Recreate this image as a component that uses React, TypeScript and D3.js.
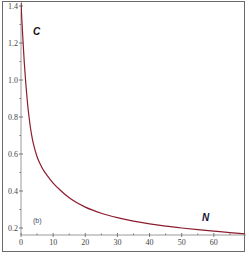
import React from 'react';
import * as d3 from 'd3';

// curve C(N)
const nValues = [0, 0.25, 0.5, 1, 1.5, 2, 2.5, 3, 3.5, 4, 5, 6, 7, 8, 10, 12.5, 15, 20, 25, 30, 35, 40, 45, 50, 55, 60, 65, 70];
const cValues = [1.42, 1.33, 1.25, 1.10, 0.98, 0.88, 0.80, 0.735, 0.685, 0.645, 0.585, 0.545, 0.512, 0.487, 0.443, 0.400, 0.363, 0.313, 0.280, 0.256, 0.237, 0.222, 0.210, 0.200, 0.191, 0.183, 0.175, 0.168];

const xTicks = [0, 10, 20, 30, 40, 50, 60];
const xMinor = [5, 15, 25, 35, 45, 55, 65];
const yTicks = [0.2, 0.4, 0.6, 0.8, 1.0, 1.2, 1.4];
const yMinor = [0.3, 0.5, 0.7, 0.9, 1.1, 1.3];

const W = 249;
const H = 256;

function App() {
    const x = d3.scaleLinear().domain([0, 70]).range([21, 246]);
    const y = d3.scaleLinear().domain([0.2, 1.4]).range([228, 6]);
    const axisY = 235;
    const axisX = 21;

    const points = nValues.map((n, i) => [n, cValues[i]] as [number, number]);
    const line = d3.line<[number, number]>()
        .x(d => x(d[0]))
        .y(d => y(d[1]))
        .curve(d3.curveMonotoneX);

    return (
        <div style={{ position: 'fixed', left: 0, top: 0 }}>
            <svg width={W} height={H} style={{ display: 'block', background: '#fff' }}>
                {/* frame */}
                <rect x={2.5} y={1.5} width={242} height={250} fill="none" stroke="#6a6a6a" strokeWidth={1} />
                <clipPath id="plot">
                    <rect x={axisX} y={2} width={224} height={axisY - 2} />
                </clipPath>

                {/* y axis */}
                <line x1={axisX} x2={axisX} y1={3} y2={axisY} stroke="#9a9a9a" />
                {yTicks.map(t => (
                    <g key={t}>
                        <line x1={axisX - 2} x2={axisX + 2} y1={y(t)} y2={y(t)} stroke="#777" />
                        <text x={axisX - 3} y={y(t) + 2.5} textAnchor="end" fontSize={8}
                            fontFamily="'Liberation Serif', serif" fill="#444">{t.toFixed(1)}</text>
                    </g>
                ))}
                {yMinor.map(t => (
                    <line key={t} x1={axisX - 1.5} x2={axisX} y1={y(t)} y2={y(t)} stroke="#777" />
                ))}

                {/* x axis */}
                <line x1={axisX} x2={246} y1={axisY} y2={axisY} stroke="#9a9a9a" />
                {xTicks.map(t => (
                    <g key={t}>
                        <line x1={x(t)} x2={x(t)} y1={axisY - 2} y2={axisY + 2} stroke="#777" />
                        <text x={x(t)} y={245} textAnchor="middle" fontSize={8}
                            fontFamily="'Liberation Serif', serif" fill="#444">{t}</text>
                    </g>
                ))}
                {xMinor.map(t => (
                    <line key={t} x1={x(t)} x2={x(t)} y1={axisY - 1.5} y2={axisY} stroke="#777" />
                ))}

                {/* curve */}
                <path d={line(points) ?? ''} fill="none" stroke="#8b1c2e" strokeWidth={1.2} clipPath="url(#plot)" />

                {/* labels */}
                <text x={33} y={35} fontSize={10} fontWeight="bold" fontStyle="italic"
                    fontFamily="'Liberation Sans', Arial, sans-serif" fill="#111">C</text>
                <text x={202} y={221} fontSize={10} fontWeight="bold" fontStyle="italic"
                    fontFamily="'Liberation Sans', Arial, sans-serif" fill="#14143a">N</text>
                <text x={33} y={223} fontSize={7}
                    fontFamily="'Liberation Sans', Arial, sans-serif" fill="#3c4a6a">(b)</text>
            </svg>
        </div>
    );
}

export default App;
